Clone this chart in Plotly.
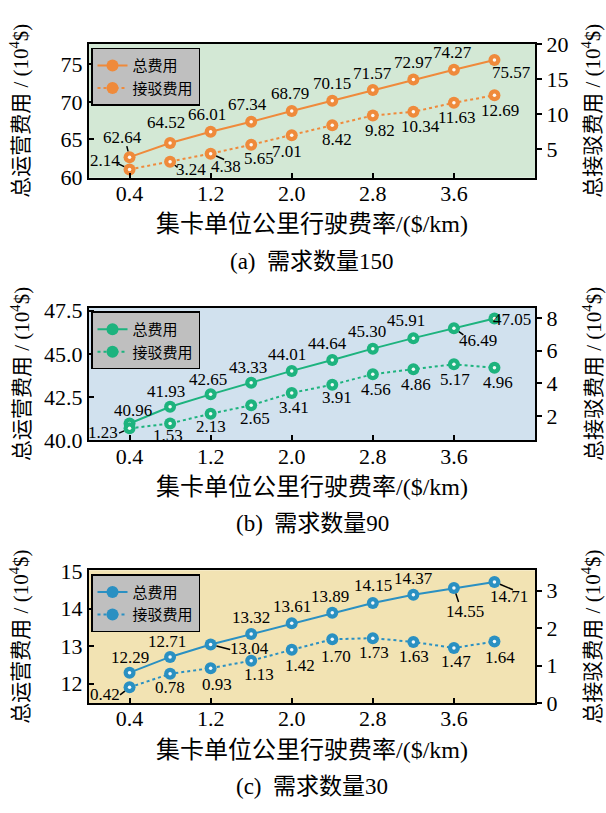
import plotly.graph_objects as go

# ---------------- data ----------------
rate = [0.4, 0.8, 1.2, 1.6, 2.0, 2.4, 2.8, 3.2, 3.6, 4.0]
x_ticks = [0.4, 1.2, 2.0, 2.8, 3.6]

a_total = [62.64, 64.52, 66.01, 67.34, 68.79, 70.15, 71.57, 72.97, 74.27, 75.57]
a_conn = [2.14, 3.24, 4.38, 5.65, 7.01, 8.42, 9.82, 10.34, 11.63, 12.69]
b_total = [40.96, 41.93, 42.65, 43.33, 44.01, 44.64, 45.30, 45.91, 46.49, 47.05]
b_conn = [1.23, 1.53, 2.13, 2.65, 3.41, 3.91, 4.56, 4.86, 5.17, 4.96]
c_total = [12.29, 12.71, 13.04, 13.32, 13.61, 13.89, 14.15, 14.37, 14.55, 14.71]
c_conn = [0.42, 0.78, 0.93, 1.13, 1.42, 1.70, 1.73, 1.63, 1.47, 1.64]

a_left_ticks = [60, 65, 70, 75]
a_right_ticks = [5, 10, 15, 20]
b_left_ticks = [40.0, 42.5, 45.0, 47.5]
b_right_ticks = [2, 4, 6, 8]
c_left_ticks = [12, 13, 14, 15]
c_right_ticks = [0, 1, 2, 3]

series_names = ["总费用", "接驳费用"]
captions = ["(a)  需求数量150", "(b)  需求数量90", "(c)  需求数量30"]
x_title = "集卡单位公里行驶费率/($/km)"
yl_title = "总运营费用 / (10<sup>4</sup>$)"
yr_title = "总接驳费用 / (10<sup>4</sup>$)"

# ---- label offsets in pixels: (dx right, dy down, leader tail or None) ----
a_total_off = [(-7, -20, (-3, -12)), (-4, -21, None), (-4, -17, None), (-4, -17, None),
               (-2, -17, None), (0, -17, None), (0, -17, None), (0, -17, None),
               (-1, -17, None), (17, 13, None)]
a_conn_off = [(-25, -9, (-12, -6)), (21, 8, (8, 6)), (15, 13, (14, 6)), (8, 14, None),
              (-5, 16, None), (5, 14, None), (7, 15, None), (7, 15, None),
              (3, 15, None), (6, 15, None)]
b_total_off = [(3, -13, None), (-4, -15, None), (-3, -15, None), (-3, -15, None),
               (-5, -16, None), (-5, -17, None), (-6, -17, None), (-7, -18, None),
               (24, 12, (10, 7)), (18, 1, None)]
b_conn_off = [(-27, 4, (-11, 5)), (-2, 12, None), (0, 13, None), (4, 13, None),
              (2, 15, None), (5, 13, None), (3, 15, None), (3, 15, None),
              (1, 15, None), (4, 15, None)]
c_total_off = [(0, -15, None), (-3, -15, None), (39, 4, (20, 5)), (0, -17, None),
               (0, -17, None), (-2, -16, None), (0, -17, None), (0, -16, None),
               (11, 24, (5, 15)), (15, 15, (19, 8))]
c_conn_off = [(-25, 7, (-10, 8)), (0, 14, None), (6, 16, None), (8, 14, None),
              (8, 16, None), (4, 17, None), (1, 14, None), (1, 15, None),
              (2, 14, None), (6, 16, None)]

FONT = "Liberation Serif, Times New Roman, Noto Sans CJK SC"
W, H = 606, 813
X0, X1 = 89, 535

panels = [
    dict(total=a_total, conn=a_conn, top=33, bottom=171, lrange=[59.9, 77.7], rrange=[0.95, 20],
         lt=a_left_ticks, ltxt=[f"{v:.0f}" for v in a_left_ticks],
         rt=a_right_ticks, rtxt=[f"{v:.0f}" for v in a_right_ticks],
         color="#ef8a3b", bg="#d3e8d5", toff=a_total_off, coff=a_conn_off),
    dict(total=b_total, conn=b_conn, top=305, bottom=442, lrange=[39.98, 47.68], rrange=[0.49, 8.65],
         lt=b_left_ticks, ltxt=[f"{v:.1f}" for v in b_left_ticks],
         rt=b_right_ticks, rtxt=[f"{v:.0f}" for v in b_right_ticks],
         color="#1db37e", bg="#d1e1ee", toff=b_total_off, coff=b_conn_off),
    dict(total=c_total, conn=c_conn, top=576, bottom=713, lrange=[11.48, 15.02], rrange=[0, 3.54],
         lt=c_left_ticks, ltxt=[f"{v:.0f}" for v in c_left_ticks],
         rt=c_right_ticks, rtxt=[f"{v:.0f}" for v in c_right_ticks],
         color="#2a90c2", bg="#f2e3b3", toff=c_total_off, coff=c_conn_off),
]

fig = go.Figure()
layout = dict(width=W, height=H, margin=dict(l=0, r=0, t=0, b=0),
              paper_bgcolor="white", plot_bgcolor="rgba(0,0,0,0)",
              font=dict(family=FONT, size=22, color="black"), showlegend=True)
annotations = []
shapes = []

for i, p in enumerate(panels):
    xa = "x" if i == 0 else f"x{i+1}"
    yl = "y" if i == 0 else f"y{2*i+1}"
    yr = f"y{2*i+2}"
    xkey = "xaxis" if i == 0 else f"xaxis{i+1}"
    ylkey = "yaxis" if i == 0 else f"yaxis{2*i+1}"
    yrkey = f"yaxis{2*i+2}"
    legkey = "legend" if i == 0 else f"legend{i+1}"
    dom_y = [1 - p["bottom"] / H, 1 - p["top"] / H]

    layout[xkey] = dict(domain=[X0 / W, X1 / W], range=[0, 4.4], anchor=yl,
                        tickvals=x_ticks, ticktext=[f"{v:.1f}" for v in x_ticks],
                        ticks="inside", ticklen=5, tickwidth=1.5, tickcolor="black",
                        showline=True, linewidth=2, linecolor="black", mirror=True,
                        showgrid=False, zeroline=False, tickfont=dict(size=22),
                        ticklabelstandoff=-5)
    layout[ylkey] = dict(domain=dom_y, range=p["lrange"], anchor=xa,
                         tickvals=p["lt"], ticktext=p["ltxt"],
                         ticks="inside", ticklen=5, tickwidth=1.5, tickcolor="black",
                         showline=True, linewidth=2, linecolor="black",
                         showgrid=False, zeroline=False, tickfont=dict(size=22))
    layout[yrkey] = dict(overlaying=yl, side="right", range=p["rrange"], anchor=xa,
                         tickvals=p["rt"], ticktext=p["rtxt"],
                         ticks="outside", ticklen=5, tickwidth=1.5, tickcolor="black",
                         showline=True, linewidth=2, linecolor="black",
                         showgrid=False, zeroline=False, tickfont=dict(size=22))
    layout[legkey] = dict(x=91 / W, y=1 - (p["top"] + 4) / H, xanchor="left", yanchor="top",
                          bgcolor="#bfbfbf", bordercolor="black", borderwidth=1.5,
                          font=dict(size=15, family=FONT), tracegroupgap=0,
                          itemwidth=30)

    shapes.append(dict(type="rect", xref=f"{xa} domain", yref=f"{yl} domain",
                       x0=0, x1=1, y0=0, y1=1, fillcolor=p["bg"],
                       line=dict(width=0), layer="below"))

    col = p["color"]
    fig.add_trace(go.Scatter(x=rate, y=p["total"], xaxis=xa, yaxis=yl, name=series_names[0],
                             mode="lines+markers", legend=legkey,
                             line=dict(color=col, width=2),
                             marker=dict(color=col, size=12, line=dict(width=0))))
    fig.add_trace(go.Scatter(x=rate, y=p["conn"], xaxis=xa, yaxis=yr, name=series_names[1],
                             mode="lines+markers", legend=legkey,
                             line=dict(color=col, width=2, dash="dot"),
                             marker=dict(color=col, size=12, line=dict(width=0))))
    # glossy highlights
    fig.add_trace(go.Scatter(x=rate, y=p["total"], xaxis=xa, yaxis=yl, mode="markers",
                             showlegend=False, hoverinfo="skip",
                             marker=dict(color="white", size=3.5, opacity=0.95)))
    fig.add_trace(go.Scatter(x=rate, y=p["conn"], xaxis=xa, yaxis=yr, mode="markers",
                             showlegend=False, hoverinfo="skip",
                             marker=dict(color="white", size=3.5, opacity=0.95)))

    for vals, offs, yref in ((p["total"], p["toff"], yl), (p["conn"], p["coff"], yr)):
        for xv, yv, (dx, dy, tail) in zip(rate, vals, offs):
            annotations.append(dict(x=xv, y=yv, xref=xa, yref=yref, text=f"{yv:.2f}",
                                    showarrow=False, xshift=dx, yshift=-dy,
                                    xanchor="center", yanchor="middle",
                                    font=dict(size=17, family=FONT)))
            if tail is not None:
                annotations.append(dict(x=xv, y=yv, xref=xa, yref=yref, text=" ",
                                        showarrow=True, arrowhead=0, arrowwidth=1.5,
                                        arrowcolor="black", ax=tail[0], ay=tail[1],
                                        standoff=6, borderpad=0, font=dict(size=1)))

    cy = 1 - (p["top"] + p["bottom"]) / 2 / H
    annotations.append(dict(x=20 / W, y=cy, xref="paper", yref="paper", text=yl_title,
                            textangle=-90, showarrow=False, xanchor="center", yanchor="middle",
                            font=dict(size=21, family=FONT)))
    annotations.append(dict(x=592 / W, y=cy, xref="paper", yref="paper", text=yr_title,
                            textangle=-90, showarrow=False, xanchor="center", yanchor="middle",
                            font=dict(size=21, family=FONT)))
    annotations.append(dict(x=(X0 + X1) / 2 / W, y=1 - (p["bottom"] + 48) / H, xref="paper",
                            yref="paper", text=x_title, showarrow=False,
                            xanchor="center", yanchor="middle",
                            font=dict(size=24, family=FONT)))
    annotations.append(dict(x=(X0 + X1) / 2 / W, y=1 - (p["bottom"] + 86) / H, xref="paper",
                            yref="paper", text=captions[i], showarrow=False,
                            xanchor="center", yanchor="middle",
                            font=dict(size=23, family=FONT)))

layout["annotations"] = annotations
layout["shapes"] = shapes
fig.update_layout(**layout)
fig.write_html("out.html", config={"displayModeBar": False},
               post_script="document.body.style.margin='0px';document.body.style.padding='0px';")
